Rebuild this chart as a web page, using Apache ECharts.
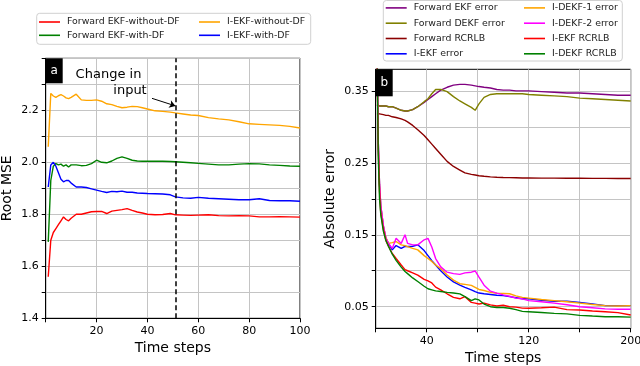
<!DOCTYPE html>
<html>
<head>
<meta charset="utf-8">
<script src="https://cdn.jsdelivr.net/npm/echarts@6/dist/echarts.min.js"></script>
<style>
  html, body { margin: 0; padding: 0; background: #fff; }
  #main { width: 640px; height: 366px; }
</style>
</head>
<body>
<div id="main"></div>
<script>
// ---- panel (a): Root MSE over time steps
const stepsA = [1,2,3,4,5,6,7,8,9,10,12,14,16,18,20,22,24,26,28,30,32,34,36,38,40,43,46,49,51,54,57,60,64,68,72,76,80,84,88,92,96,100];
const fwdEkfNoDF = [1.56,1.70,1.73,1.745,1.76,1.775,1.79,1.78,1.775,1.785,1.8,1.8,1.805,1.81,1.811,1.811,1.803,1.812,1.815,1.818,1.822,1.815,1.809,1.805,1.8,1.798,1.799,1.803,1.798,1.797,1.796,1.797,1.798,1.795,1.794,1.795,1.794,1.79,1.79,1.791,1.79,1.789];
const fwdEkfDF = [1.694,1.93,1.985,1.995,1.99,1.993,1.985,1.99,1.982,1.99,1.99,1.987,1.988,1.995,2.008,2.0,1.998,2.005,2.015,2.021,2.015,2.008,2.005,2.004,2.004,2.004,2.004,2.003,2.002,2.0,1.998,1.996,1.993,1.99,1.99,1.993,1.995,1.994,1.99,1.988,1.986,1.985];
const iEkfNoDF = [2.06,2.265,2.255,2.25,2.256,2.26,2.255,2.248,2.245,2.25,2.262,2.24,2.238,2.238,2.24,2.235,2.225,2.222,2.215,2.21,2.212,2.215,2.214,2.21,2.205,2.198,2.196,2.193,2.19,2.186,2.182,2.18,2.172,2.167,2.163,2.156,2.148,2.146,2.144,2.142,2.138,2.132];
const iEkfDF = [1.905,1.99,2.0,1.985,1.96,1.935,1.925,1.93,1.93,1.92,1.905,1.905,1.903,1.898,1.893,1.888,1.884,1.888,1.887,1.889,1.885,1.885,1.882,1.881,1.88,1.879,1.878,1.875,1.867,1.863,1.862,1.865,1.862,1.86,1.858,1.856,1.856,1.86,1.853,1.852,1.852,1.85];
const changeStep = 51;
const yLabelsA = [1.4, 1.6, 1.8, 2.0, 2.2];

// ---- panel (b): absolute error over time steps
const stepsB = [1,2,3,4,6,8,10,13,16,20,23,25,29,33,38,41,44,47,51,56,61,66,70,75,78,81,85,90,95,100,105,110,115,120,130,140,150,160,170,180,190,200];
const fwdEkfErr = [0.331,0.330,0.329,0.329,0.329,0.329,0.328,0.328,0.326,0.323,0.322,0.322,0.324,0.328,0.334,0.338,0.342,0.346,0.351,0.355,0.358,0.359,0.359,0.358,0.357,0.356,0.355,0.354,0.352,0.351,0.351,0.350,0.350,0.350,0.349,0.348,0.347,0.347,0.346,0.345,0.344,0.344];
const fwdDekfErr = [0.331,0.330,0.329,0.329,0.329,0.329,0.328,0.328,0.326,0.323,0.322,0.322,0.324,0.328,0.335,0.339,0.346,0.352,0.352,0.349,0.342,0.336,0.332,0.327,0.323,0.332,0.341,0.345,0.346,0.346,0.346,0.346,0.346,0.345,0.344,0.343,0.342,0.340,0.339,0.338,0.337,0.336];
const fwdRcrlb = [0.3186,0.318,0.318,0.317,0.317,0.316,0.316,0.314,0.313,0.311,0.309,0.307,0.302,0.296,0.288,0.282,0.276,0.270,0.262,0.252,0.245,0.240,0.236,0.234,0.233,0.232,0.2313,0.2305,0.230,0.2297,0.2295,0.2293,0.229,0.229,0.2288,0.2287,0.2286,0.2285,0.2284,0.2284,0.2283,0.2283];
const iEkfErr = [0.40,0.28,0.22,0.19,0.162,0.145,0.138,0.129,0.135,0.131,0.134,0.1336,0.134,0.136,0.128,0.121,0.114,0.108,0.100,0.0913,0.0845,0.080,0.077,0.0735,0.071,0.069,0.068,0.067,0.066,0.0655,0.064,0.0625,0.061,0.061,0.059,0.0575,0.0575,0.056,0.054,0.0515,0.0515,0.0515];
const iDekf1Err = [0.40,0.28,0.22,0.19,0.162,0.146,0.138,0.139,0.1406,0.136,0.135,0.1336,0.131,0.129,0.121,0.117,0.113,0.108,0.103,0.094,0.087,0.082,0.081,0.0796,0.077,0.074,0.0725,0.070,0.0688,0.0685,0.068,0.065,0.063,0.062,0.060,0.0585,0.057,0.055,0.053,0.0515,0.051,0.0515];
const iDekf2Err = [0.40,0.28,0.22,0.19,0.163,0.145,0.138,0.131,0.145,0.138,0.150,0.138,0.136,0.136,0.143,0.145,0.133,0.117,0.1054,0.098,0.096,0.095,0.097,0.098,0.0997,0.091,0.080,0.0716,0.0688,0.0665,0.0645,0.062,0.061,0.0585,0.057,0.055,0.0528,0.050,0.0485,0.047,0.0465,0.0464];
const iEkfRcrlb = [0.40,0.27,0.21,0.18,0.158,0.142,0.134,0.124,0.117,0.108,0.1016,0.100,0.097,0.094,0.088,0.086,0.083,0.0772,0.0735,0.068,0.063,0.061,0.064,0.056,0.055,0.0537,0.055,0.0525,0.051,0.052,0.050,0.0495,0.048,0.0478,0.0485,0.0495,0.046,0.0455,0.044,0.0431,0.0418,0.0385];
const iDekfRcrlb = [0.42,0.26,0.20,0.178,0.155,0.142,0.134,0.123,0.1145,0.105,0.099,0.096,0.090,0.085,0.0785,0.075,0.0735,0.072,0.0712,0.070,0.069,0.0678,0.064,0.0584,0.061,0.0594,0.0537,0.050,0.049,0.049,0.0478,0.046,0.0435,0.0431,0.042,0.0408,0.040,0.038,0.037,0.0361,0.036,0.0355];
const yTicksB = [0.05, 0.10, 0.15, 0.20, 0.25, 0.30, 0.35];
const yLabelsB = [0.05, 0.15, 0.25, 0.35];
const xLabelsB = [40, 120, 200];

const FONT = 'DejaVu Sans';
const pair = (xs, ys) => xs.map((x, i) => [x, ys[i]]);

function lineSeries(name, idx, xs, ys, color, extra) {
    return Object.assign({
        name: name,
        type: 'line',
        xAxisIndex: idx,
        yAxisIndex: idx,
        data: pair(xs, ys),
        symbol: 'none',
        color: color,
        lineStyle: { color: color, width: 1.4 },
        animation: false
    }, extra || {});
}

const axisCommon = {
    axisLine: { show: true, onZero: false, lineStyle: { color: '#000', width: 1 } },
    axisTick: { show: true, length: 4, lineStyle: { color: '#000' } },
    splitLine: { show: true, lineStyle: { color: '#c4c4c4', width: 1 } },
    nameLocation: 'middle',
    nameTextStyle: { fontFamily: FONT, fontSize: 14, color: '#000' }
};
const labelCommon = { fontFamily: FONT, fontSize: 11, color: '#000' };

// legend look shared by the four legend blocks
function legendBlock(names, left, top, gap) {
    return {
        data: names,
        orient: 'vertical', left: left, top: top, padding: 0,
        icon: 'rect', itemWidth: 21, itemHeight: 1.6, itemGap: gap,
        textStyle: { fontFamily: FONT, fontSize: 9.4, color: '#222', lineHeight: 11, padding: [0, 0, 0, 2] }
    };
}

let chart = echarts.init(document.getElementById('main'));
let option = {
    backgroundColor: '#fff',
    grid: [
        { left: 45.7, top: 58.3, width: 254.3, height: 260, show: true, borderColor: '#000', borderWidth: 1, outerBoundsMode: 'none' },
        { left: 375.7, top: 69.3, width: 255, height: 259, show: true, borderColor: '#000', borderWidth: 1, outerBoundsMode: 'none' }
    ],
    xAxis: [
        Object.assign({}, axisCommon, {
            gridIndex: 0, type: 'value', min: 0, max: 100, interval: 20,
            name: 'Time steps', nameGap: 20,
            axisLabel: Object.assign({}, labelCommon, {
                margin: 7,
                formatter: v => (v === 0 ? '' : String(v))
            })
        }),
        Object.assign({}, axisCommon, {
            gridIndex: 1, type: 'value', min: 0, max: 200, interval: 40,
            name: 'Time steps', nameGap: 20,
            axisLabel: Object.assign({}, labelCommon, {
                margin: 7,
                formatter: v => (xLabelsB.indexOf(v) >= 0 ? String(v) : '')
            })
        })
    ],
    yAxis: [
        Object.assign({}, axisCommon, {
            gridIndex: 0, type: 'value', min: 1.4, max: 2.4, interval: 0.1,
            name: 'Root MSE', nameGap: 31,
            axisLabel: Object.assign({}, labelCommon, {
                margin: 7,
                formatter: v => (yLabelsA.some(t => Math.abs(t - v) < 1e-6) ? v.toFixed(1) : '')
            })
        }),
        Object.assign({}, axisCommon, {
            gridIndex: 1, type: 'value', min: 0.02, max: 0.38,
            name: 'Absolute error', nameGap: 38,
            axisTick: { show: true, length: 4, lineStyle: { color: '#000' }, customValues: yTicksB },
            axisLabel: Object.assign({}, labelCommon, {
                margin: 7,
                customValues: yLabelsB,
                formatter: v => v.toFixed(2)
            })
        })
    ],
    legend: [
        legendBlock(['Forward EKF-without-DF', 'Forward EKF-with-DF'], 39, 16.5, 2.3),
        legendBlock(['I-EKF-without-DF', 'I-EKF-with-DF'], 199, 16.5, 2.3),
        legendBlock(['Forward EKF error', 'Forward DEKF error', 'Forward RCRLB', 'I-EKF error'], 385.7, 2.4, 4.3),
        legendBlock(['I-DEKF-1 error', 'I-DEKF-2 error', 'I-EKF RCRLB', 'I-DEKF RCRLB'], 524, 2.4, 4.3)
    ],
    graphic: [
        // legend frames
        { type: 'rect', z: -1, shape: { x: 36.7, y: 13.3, width: 274, height: 31, r: 3 }, style: { fill: '#fff', stroke: '#d0d0d0', lineWidth: 1 } },
        { type: 'rect', z: -1, shape: { x: 383.3, y: 0.5, width: 239, height: 60.5, r: 3 }, style: { fill: '#fff', stroke: '#d0d0d0', lineWidth: 1 } },
        // panel tags
        { type: 'rect', z: 100, shape: { x: 45.7, y: 58.3, width: 17, height: 25 }, style: { fill: '#000' } },
        { type: 'text', z: 101, x: 54.2, y: 70.8, style: { text: 'a', fill: '#fff', fontFamily: FONT, fontSize: 12, align: 'center', verticalAlign: 'middle' } },
        { type: 'rect', z: 100, shape: { x: 375.7, y: 69.3, width: 17, height: 27 }, style: { fill: '#000' } },
        { type: 'text', z: 101, x: 384.2, y: 82.8, style: { text: 'b', fill: '#fff', fontFamily: FONT, fontSize: 12, align: 'center', verticalAlign: 'middle' } },
        // annotation text
        { type: 'text', z: 50, x: 108.5, y: 75, style: { text: 'Change in', fill: '#000', fontFamily: FONT, fontSize: 13, align: 'center', verticalAlign: 'middle' } },
        { type: 'text', z: 50, x: 130, y: 90.5, style: { text: 'input', fill: '#000', fontFamily: FONT, fontSize: 13, align: 'center', verticalAlign: 'middle' } }
    ],
    series: [
        lineSeries('Forward EKF-without-DF', 0, stepsA, fwdEkfNoDF, '#ff0000', {
            markLine: {
                silent: true, symbol: ['none', 'none'], animation: false,
                label: { show: false },
                lineStyle: { color: '#000', width: 1.5, type: [5, 3] },
                data: [{ xAxis: changeStep }]
            }
        }),
        lineSeries('Forward EKF-with-DF', 0, stepsA, fwdEkfDF, '#008000', {
            markLine: {
                silent: true, symbol: ['none', 'arrow'], symbolSize: 6, animation: false,
                label: { show: false },
                lineStyle: { color: '#000', width: 1, type: 'solid' },
                data: [[{ coord: [41.8, 2.246] }, { coord: [changeStep, 2.217] }]]
            }
        }),
        lineSeries('I-EKF-without-DF', 0, stepsA, iEkfNoDF, '#ffa500'),
        lineSeries('I-EKF-with-DF', 0, stepsA, iEkfDF, '#0000ff'),

        lineSeries('Forward EKF error', 1, stepsB, fwdEkfErr, '#800080'),
        lineSeries('Forward DEKF error', 1, stepsB, fwdDekfErr, '#808000'),
        lineSeries('Forward RCRLB', 1, stepsB, fwdRcrlb, '#8b0000'),
        lineSeries('I-EKF error', 1, stepsB, iEkfErr, '#0000ff'),
        lineSeries('I-DEKF-1 error', 1, stepsB, iDekf1Err, '#ffa500'),
        lineSeries('I-DEKF-2 error', 1, stepsB, iDekf2Err, '#ff00ff'),
        lineSeries('I-EKF RCRLB', 1, stepsB, iEkfRcrlb, '#ff0000'),
        lineSeries('I-DEKF RCRLB', 1, stepsB, iDekfRcrlb, '#008000')
    ]
};
chart.setOption(option);
</script>
</body>
</html>
